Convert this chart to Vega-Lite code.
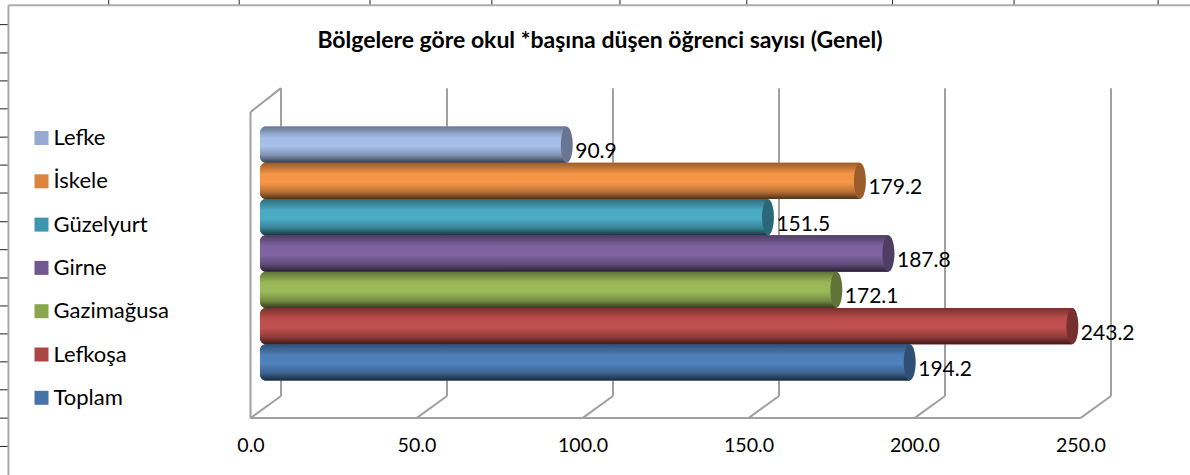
{
"$schema":"https://vega.github.io/schema/vega-lite/v6.json",
"width":1190,"height":475,"padding":0,"autosize":{"type":"none"},"background":"white",
"config":{"view":{"stroke":null},"font":"Lato"},
"title":{"text":"Bölgelere göre okul *başına düşen öğrenci sayısı (Genel)","font":"Lato","fontSize":23,"fontWeight":"bold","color":"black","anchor":"middle","frame":"group","offset":-54,"dx":5},
"datasets":{
"bolge":[
{"bolge":"Lefke","deger":90.9},{"bolge":"İskele","deger":179.2},{"bolge":"Güzelyurt","deger":151.5},{"bolge":"Girne","deger":187.8},{"bolge":"Gazimağusa","deger":172.1},{"bolge":"Lefkoşa","deger":243.2},{"bolge":"Toplam","deger":194.2}],
"duvar":[
{"xa":0,"xb":0,"ya":-1.05,"yb":7.38},
{"xa":0,"xb":9.2,"ya":7.38,"yb":8.04},
{"xa":0,"xb":250,"ya":-1.05,"yb":-1.05},
{"xa":0,"xb":9.2,"ya":-1.05,"yb":-0.44},
{"xa":50,"xb":59.2,"ya":-1.05,"yb":-0.44},
{"xa":100,"xb":109.2,"ya":-1.05,"yb":-0.44},
{"xa":150,"xb":159.2,"ya":-1.05,"yb":-0.44},
{"xa":200,"xb":209.2,"ya":-1.05,"yb":-0.44},
{"xa":250,"xb":259.2,"ya":-1.05,"yb":-0.44},
{"xa":9.2,"xb":9.2,"ya":-0.44,"yb":8.04},
{"xa":59.2,"xb":59.2,"ya":-0.44,"yb":8.04},
{"xa":109.2,"xb":109.2,"ya":-0.44,"yb":8.04},
{"xa":159.2,"xb":159.2,"ya":-0.44,"yb":8.04},
{"xa":209.2,"xb":209.2,"ya":-0.44,"yb":8.04},
{"xa":259.2,"xb":259.2,"ya":-0.44,"yb":8.04}],
"cerceve":[
{"xa":-72.9,"xb":-72.9,"ya":-2.617,"yb":10.32},
{"xa":-72.9,"xb":283,"ya":10.32,"yb":10.32}],
"izgara":[
{"xa":-42.7,"xb":-42.7,"ya":10.32,"yb":10.47},
{"xa":-3.4,"xb":-3.4,"ya":10.32,"yb":10.47},
{"xa":36,"xb":36,"ya":10.32,"yb":10.47},
{"xa":72.7,"xb":72.7,"ya":10.32,"yb":10.47},
{"xa":111.3,"xb":111.3,"ya":10.32,"yb":10.47},
{"xa":149.5,"xb":149.5,"ya":10.32,"yb":10.47},
{"xa":193.4,"xb":193.4,"ya":10.32,"yb":10.47},
{"xa":230,"xb":230,"ya":10.32,"yb":10.47},
{"xa":273.4,"xb":273.4,"ya":10.32,"yb":10.47},
{"xa":-75.5,"xb":-72.9,"ya":9.79,"yb":9.79},
{"xa":-75.5,"xb":-72.9,"ya":9.01,"yb":9.01},
{"xa":-75.5,"xb":-72.9,"ya":8.24,"yb":8.24},
{"xa":-75.5,"xb":-72.9,"ya":7.47,"yb":7.47},
{"xa":-75.5,"xb":-72.9,"ya":6.69,"yb":6.69},
{"xa":-75.5,"xb":-72.9,"ya":5.92,"yb":5.92},
{"xa":-75.5,"xb":-72.9,"ya":5.15,"yb":5.15},
{"xa":-75.5,"xb":-72.9,"ya":4.36,"yb":4.36},
{"xa":-75.5,"xb":-72.9,"ya":3.59,"yb":3.59},
{"xa":-75.5,"xb":-72.9,"ya":2.81,"yb":2.81},
{"xa":-75.5,"xb":-72.9,"ya":2.04,"yb":2.04},
{"xa":-75.5,"xb":-72.9,"ya":1.27,"yb":1.27},
{"xa":-75.5,"xb":-72.9,"ya":0.5,"yb":0.5},
{"xa":-75.5,"xb":-72.9,"ya":-0.27,"yb":-0.27},
{"xa":-75.5,"xb":-72.9,"ya":-1.05,"yb":-1.05},
{"xa":-75.5,"xb":-72.9,"ya":-1.83,"yb":-1.83}]
},
"resolve":{"scale":{"y":"independent"}},
"layer":[
{"data":{"name":"izgara"},"mark":{"type":"rule","color":"#222222","strokeWidth":1},
 "encoding":{"x":{"field":"xa","type":"quantitative","scale":{"domain":[-75.45,283],"nice":false,"zero":false},
   "axis":{"title":null,"grid":false,"domain":false,"ticks":false,"values":[0,50,100,150,200,250],"format":".1f","labelFont":"Lato","labelFontSize":19.6,"labelColor":"black","offset":-30,"labelPadding":0,"labelBaseline":"middle","labelFlush":false,"labelOverlap":false}},
   "x2":{"field":"xb"},
   "y":{"field":"ya","type":"quantitative","scale":{"domain":[-2.617,10.468],"nice":false,"zero":false},"axis":null},"y2":{"field":"yb"}}},
{"data":{"name":"cerceve"},"mark":{"type":"rule","color":"#ababab","strokeWidth":2},
 "encoding":{"x":{"field":"xa","type":"quantitative"},"x2":{"field":"xb"},
   "y":{"field":"ya","type":"quantitative","scale":{"domain":[-2.617,10.468],"nice":false,"zero":false},"axis":null},"y2":{"field":"yb"}}},
{"data":{"name":"duvar"},"mark":{"type":"rule","color":"#a0a0a0","strokeWidth":2},
 "encoding":{"x":{"field":"xa","type":"quantitative"},"x2":{"field":"xb"},
   "y":{"field":"ya","type":"quantitative","scale":{"domain":[-2.617,10.468],"nice":false,"zero":false},"axis":null},"y2":{"field":"yb"}}},
{"data":{"name":"bolge"},
 "encoding":{"y":{"field":"bolge","type":"nominal","sort":null,"axis":null,"scale":{"domain":["Lefke","İskele","Güzelyurt","Girne","Gazimağusa","Lefkoşa","Toplam"],"range":[126.5,380.5],"paddingInner":0,"paddingOuter":0}},
   "x":{"field":"deger","type":"quantitative"}},
 "layer":[
  {"mark":{"type":"bar","xOffset":14.5,"x2Offset":9.5,"cornerRadiusTopLeft":6,"cornerRadiusBottomLeft":6},
   "encoding":{"x2":{"datum":0},
    "color":{"field":"bolge","type":"nominal","scale":{"domain":["Lefke","İskele","Güzelyurt","Girne","Gazimağusa","Lefkoşa","Toplam"],"range":["#95A9D3","#DB843D","#3D96AE","#71588F","#89A54E","#AA4643","#4572A7"]},
     "legend":{"orient":"none","legendX":30.5,"legendY":127,"title":null,"symbolType":"square","symbolSize":196,"symbolStrokeWidth":0,"symbolOpacity":1,"labelFont":"Lato","labelFontSize":22,"labelColor":"black","labelOffset":1,"rowPadding":21.3,"labelLimit":200}}}},
  {"mark":{"type":"bar","xOffset":14.5,"x2Offset":9.5,"cornerRadiusTopLeft":6,"cornerRadiusBottomLeft":6},
   "encoding":{"x2":{"datum":0},
    "fill":{"field":"bolge","type":"nominal","legend":null,"scale":{"domain":["Lefke","İskele","Güzelyurt","Girne","Gazimağusa","Lefkoşa","Toplam"],"range":["#A7C0EA","#F79646","#4BACC6","#8064A2","#9BBB59","#C0504D","#4F81BD"]}}}},
  {"mark":{"type":"bar","xOffset":14.5,"x2Offset":9.5,"cornerRadiusTopLeft":6,"cornerRadiusBottomLeft":6,
     "fill":{"gradient":"linear","x1":0,"y1":0,"x2":0,"y2":1,"stops":[{"offset":0,"color":"rgba(0,0,0,0.38)"},{"offset":0.3,"color":"rgba(0,0,0,0.02)"},{"offset":0.55,"color":"rgba(0,0,0,0)"},{"offset":0.8,"color":"rgba(0,0,0,0.25)"},{"offset":1,"color":"rgba(0,0,0,0.68)"}]}},
   "encoding":{"x2":{"datum":0}}},
  {"mark":{"type":"point","filled":true,"opacity":1,"xOffset":14.5,"shape":"M0,-1C0.18,-1 0.33,-0.55 0.33,0C0.33,0.55 0.18,1 0,1C-0.18,1 -0.33,0.55 -0.33,0C-0.33,-0.55 -0.18,-1 0,-1Z","size":1296},
   "encoding":{"color":{"field":"bolge","type":"nominal"}}},
  {"mark":{"type":"point","filled":true,"opacity":0.3,"color":"black","xOffset":14.5,"shape":"M0,-1C0.18,-1 0.33,-0.55 0.33,0C0.33,0.55 0.18,1 0,1C-0.18,1 -0.33,0.55 -0.33,0C-0.33,-0.55 -0.18,-1 0,-1Z","size":1296}},
  {"mark":{"type":"text","align":"left","baseline":"middle","xOffset":23,"dy":7.5,"font":"Lato","fontSize":21,"color":"black"},
   "encoding":{"text":{"field":"deger","type":"quantitative","format":".1f"}}}
 ]}
]}
